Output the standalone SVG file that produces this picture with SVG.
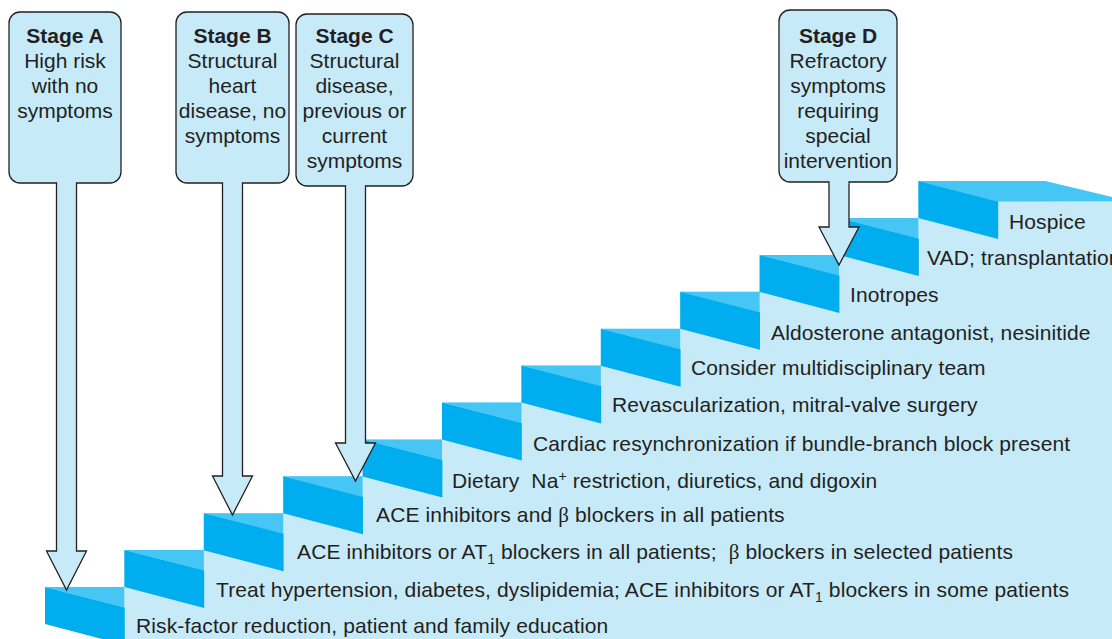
<svg xmlns="http://www.w3.org/2000/svg" width="1112" height="639" viewBox="0 0 1112 639">
<style>
.pale{fill:#c7eaf9}
.top{fill:#45c6f4}
.riser{fill:#00adee}
.box{fill:#c7eaf9;stroke:#231f20;stroke-width:1.3}
.arrow{fill:#c7eaf9;stroke:#231f20;stroke-width:1.3;stroke-linejoin:miter}
text{font-family:"Liberation Sans",Arial,Helvetica,sans-serif;font-size:21px;fill:#231f20}
#step-labels text{letter-spacing:0.13px}
.c{text-anchor:middle}
.b{font-weight:bold}
.sub{font-size:14px}
.greek{font-family:"Liberation Serif","Times New Roman",serif}
</style>
<rect width="1112" height="639" fill="#ffffff"/>
<g id="staircase">
<polygon class="pale" points="124.4,639 124.4,550.1 203.8,550.1 203.8,513.2 283.2,513.2 283.2,476.3 362.6,476.3 362.6,439.4 442,439.4 442,402.5 521.4,402.5 521.4,365.6 600.8,365.6 600.8,328.7 680.2,328.7 680.2,291.8 759.6,291.8 759.6,254.9 839,254.9 839,218 918.4,218 918.4,181.1 1045,181.1 1112,197 1112,639"/>
<g id="step1"><polygon class="top" points="45,587 124.4,587 124.4,607.5"/><polygon class="riser" points="45,587 124.8,607.5 124.8,645 45,624"/></g>
<g id="step2"><polygon class="top" points="124.4,550.1 203.8,550.1 203.8,570.6"/><polygon class="riser" points="124.4,550.1 204.2,570.6 204.2,608.1 124.4,587.1"/></g>
<g id="step3"><polygon class="top" points="203.8,513.2 283.2,513.2 283.2,533.7"/><polygon class="riser" points="203.8,513.2 283.6,533.7 283.6,571.2 203.8,550.2"/></g>
<g id="step4"><polygon class="top" points="283.2,476.3 362.6,476.3 362.6,496.8"/><polygon class="riser" points="283.2,476.3 363,496.8 363,534.3 283.2,513.3"/></g>
<g id="step5"><polygon class="top" points="362.6,439.4 442,439.4 442,459.9"/><polygon class="riser" points="362.6,439.4 442.4,459.9 442.4,497.4 362.6,476.4"/></g>
<g id="step6"><polygon class="top" points="442,402.5 521.4,402.5 521.4,423"/><polygon class="riser" points="442,402.5 521.8,423 521.8,460.5 442,439.5"/></g>
<g id="step7"><polygon class="top" points="521.4,365.6 600.8,365.6 600.8,386.1"/><polygon class="riser" points="521.4,365.6 601.2,386.1 601.2,423.6 521.4,402.6"/></g>
<g id="step8"><polygon class="top" points="600.8,328.7 680.2,328.7 680.2,349.2"/><polygon class="riser" points="600.8,328.7 680.6,349.2 680.6,386.7 600.8,365.7"/></g>
<g id="step9"><polygon class="top" points="680.2,291.8 759.6,291.8 759.6,312.3"/><polygon class="riser" points="680.2,291.8 760,312.3 760,349.8 680.2,328.8"/></g>
<g id="step10"><polygon class="top" points="759.6,254.9 839,254.9 839,275.4"/><polygon class="riser" points="759.6,254.9 839.4,275.4 839.4,312.9 759.6,291.9"/></g>
<g id="step11"><polygon class="top" points="839,218 918.4,218 918.4,238.5"/><polygon class="riser" points="839,218 918.8,238.5 918.8,276 839,255"/></g>
<g id="step12"><polygon class="top" points="918.4,181.1 1045,181.1 1112,197 1112,201.3 998.2,201.6"/><polygon class="riser" points="918.4,181.1 998.2,201.6 998.2,239.1 918.4,218.1"/></g>
</g>
<g id="step-labels">
<text x="136" y="633">Risk-factor reduction, patient and family education</text>
<text x="216" y="597">Treat hypertension, diabetes, dyslipidemia; ACE inhibitors or AT<tspan class="sub" dy="5">1</tspan><tspan dy="-5"> blockers in some patients</tspan></text>
<text x="297" y="559" xml:space="preserve">ACE inhibitors or AT<tspan class="sub" dy="5">1</tspan><tspan dy="-5"> blockers in all patients;  </tspan><tspan class="greek">β</tspan> blockers in selected patients</text>
<text x="376" y="522">ACE inhibitors and <tspan class="greek">β</tspan> blockers in all patients</text>
<text x="452" y="488" xml:space="preserve">Dietary  Na<tspan class="sub" dy="-7">+</tspan><tspan dy="7"> restriction, diuretics, and digoxin</tspan></text>
<text x="533" y="451">Cardiac resynchronization if bundle-branch block present</text>
<text x="612" y="412">Revascularization, mitral-valve surgery</text>
<text x="691" y="375">Consider multidisciplinary team</text>
<text x="771" y="340">Aldosterone antagonist, nesinitide</text>
<text x="850" y="302">Inotropes</text>
<text x="927" y="265">VAD; transplantation</text>
<text x="1009" y="229">Hospice</text>
</g>
<g id="connectors">
<path class="arrow" d="M56.5,182 L56.5,551 L46.5,551 L66.5,590 L86.5,551 L76.5,551 L76.5,182"/>
<path class="arrow" d="M222.5,182 L222.5,476 L212.5,476 L232.5,515 L252.5,476 L242.5,476 L242.5,182"/>
<path class="arrow" d="M345.5,185 L345.5,443 L335.5,443 L355.5,481 L375.5,443 L365.5,443 L365.5,185"/>
<path class="arrow" d="M829,181 L829,227 L819,227 L839,265 L859,227 L849,227 L849,181"/>
</g>
<g id="stageA">
<rect class="box" x="9" y="12" width="112" height="171" rx="11"/>
<rect class="pale" x="57.2" y="180" width="18.6" height="5"/>
<text class="c b" x="65" y="43">Stage A</text>
<text class="c" x="65" y="68">High risk</text>
<text class="c" x="65" y="93">with no</text>
<text class="c" x="65" y="118">symptoms</text>
</g>
<g id="stageB">
<rect class="box" x="176" y="12" width="113" height="171" rx="11"/>
<rect class="pale" x="223.2" y="180" width="18.6" height="5"/>
<text class="c b" x="232.5" y="43">Stage B</text>
<text class="c" x="232.5" y="68">Structural</text>
<text class="c" x="232.5" y="93">heart</text>
<text class="c" x="232.5" y="118">disease, no</text>
<text class="c" x="232.5" y="143">symptoms</text>
</g>
<g id="stageC">
<rect class="box" x="296" y="14" width="117" height="172" rx="11"/>
<rect class="pale" x="346.2" y="183" width="18.6" height="5"/>
<text class="c b" x="354.5" y="43">Stage C</text>
<text class="c" x="354.5" y="68">Structural</text>
<text class="c" x="354.5" y="93">disease,</text>
<text class="c" x="354.5" y="118">previous or</text>
<text class="c" x="354.5" y="143">current</text>
<text class="c" x="354.5" y="168">symptoms</text>
</g>
<g id="stageD">
<rect class="box" x="779" y="10" width="118" height="172" rx="11"/>
<rect class="pale" x="829.7" y="179" width="18.6" height="5"/>
<text class="c b" x="838" y="43">Stage D</text>
<text class="c" x="838" y="68">Refractory</text>
<text class="c" x="838" y="93">symptoms</text>
<text class="c" x="838" y="118">requiring</text>
<text class="c" x="838" y="143">special</text>
<text class="c" x="838" y="168">intervention</text>
</g>
</svg>
